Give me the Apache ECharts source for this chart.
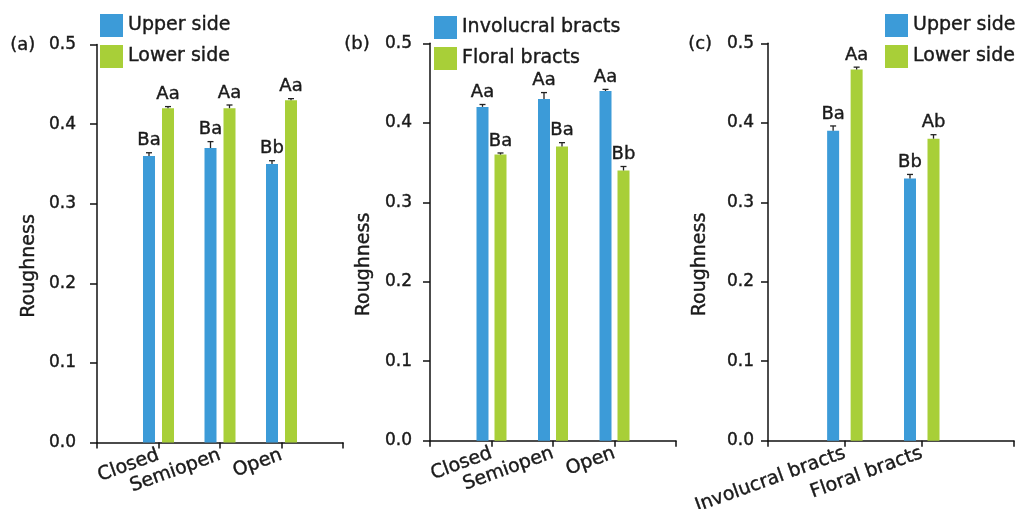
<!DOCTYPE html>
<html><head><meta charset="utf-8">
<script src="https://cdn.jsdelivr.net/npm/echarts@6/dist/echarts.min.js"></script>
<style>html,body{margin:0;padding:0;background:#fff}#c{width:1018px;height:509px}</style>
</head><body><div id="c"></div>
<script>
// ---- categories ----
const stageCats = ['Closed', 'Semiopen', 'Open'];
const bractCats = ['Involucral bracts', 'Floral bracts'];
const yTickLabels = ['0.0', '0.1', '0.2', '0.3', '0.4', '0.5'];

// ---- panel (a): upper vs lower side by stage ----
const aUpper = [0.36, 0.37, 0.35];
const aUpperErr = [0.004, 0.008, 0.004];
const aUpperSig = ['Ba', 'Ba', 'Bb'];
const aLower = [0.42, 0.42, 0.43];
const aLowerErr = [0.002, 0.004, 0.002];
const aLowerSig = ['Aa', 'Aa', 'Aa'];

// ---- panel (b): involucral vs floral bracts by stage ----
const bInvol = [0.42, 0.43, 0.44];
const bInvolErr = [0.003, 0.008, 0.002];
const bInvolSig = ['Aa', 'Aa', 'Aa'];
const bFloral = [0.36, 0.37, 0.34];
const bFloralErr = [0.002, 0.005, 0.005];
const bFloralSig = ['Ba', 'Ba', 'Bb'];

// ---- panel (c): upper vs lower side by bract type ----
const cUpper = [0.39, 0.33];
const cUpperErr = [0.006, 0.005];
const cUpperSig = ['Ba', 'Bb'];
const cLower = [0.467, 0.38];
const cLowerErr = [0.003, 0.005];
const cLowerSig = ['Aa', 'Ab'];

const FONT = 'DejaVu Sans';
const TXT = '#1a1a1a';
const BLUE = '#3c9bd8';
const GREEN = '#a8cf38';
const BARW = 12;
const HEAVY = {textBorderColor: TXT, textBorderWidth: 0.4};

const chart = echarts.init(document.getElementById('c'), null, {renderer: 'canvas'});

const grids = [], xAxes = [], yAxes = [], series = [], legends = [], graphics = [];

function addPanel(idx, cfg) {
  grids.push(Object.assign({outerBoundsMode: 'none', containLabel: false}, cfg.grid));
  const cats = cfg.cats;
  xAxes.push({
    type: 'value', gridIndex: idx, min: 0, max: cfg.xMax, interval: 1,
    splitLine: {show: false},
    axisLine: {lineStyle: {color: '#111', width: 1.5}},
    axisTick: {length: 6, customValues: cfg.xTicks, lineStyle: {color: '#111', width: 1.5}},
    axisLabel: Object.assign({
      customValues: cats.map((c, i) => i + 1),
      formatter: v => cats[Math.round(v) - 1] || '',
      rotate: 20, fontSize: 19, fontFamily: FONT, color: TXT, margin: 12
    }, HEAVY)
  });
  yAxes.push({
    type: 'value', gridIndex: idx, min: 0, max: 0.5, interval: 0.1,
    splitLine: {show: false},
    axisLine: {show: true, lineStyle: {color: '#111', width: 1.5}},
    axisTick: {show: true, length: 7, lineStyle: {color: '#111', width: 1.5}},
    axisLabel: Object.assign({formatter: v => yTickLabels[Math.round(v * 10)], fontSize: 17, fontFamily: FONT, color: TXT, margin: cfg.yLabelMargin}, HEAVY),
    name: 'Roughness', nameLocation: 'middle', nameGap: cfg.nameGap, nameRotate: 90,
    nameTextStyle: Object.assign({fontSize: 19, fontFamily: FONT, color: TXT, padding: [0, 45, 0, 0]}, HEAVY)
  });
  const off = (BARW + cfg.gapPx) / 2;
  [[cfg.s1, -off, BLUE], [cfg.s2, off, GREEN]].forEach(([s, dx, col]) => {
    series.push({
      type: 'bar', name: s.name, xAxisIndex: idx, yAxisIndex: idx,
      barWidth: BARW, barGap: (cfg.gapPx / BARW * 100) + '%',
      itemStyle: {color: col}, silent: true,
      data: s.values.map((v, i) => [i + 1, v])
    });
  });
  [[cfg.s1, -off], [cfg.s2, off]].forEach(([s, dx]) => {
    series.push({
      type: 'custom', name: s.name + ' error', xAxisIndex: idx, yAxisIndex: idx, silent: true, z: 5,
      data: s.values.map((v, i) => [i + 1, v, s.err[i]]),
      renderItem: (params, api) => {
        const x = api.value(0), v = api.value(1), e = api.value(2);
        const p0 = api.coord([x, v]);
        const p1 = api.coord([x, v + e]);
        const cx = p0[0] + dx;
        return {
          type: 'group',
          children: [
            {type: 'line', shape: {x1: cx, y1: p0[1], x2: cx, y2: p1[1]}, style: {stroke: '#222', lineWidth: 1.3}},
            {type: 'line', shape: {x1: cx - 3, y1: p1[1], x2: cx + 3, y2: p1[1]}, style: {stroke: '#222', lineWidth: 1.3}},
            {type: 'text', style: {text: s.sig[params.dataIndex], x: cx, y: p1[1] - 3, align: 'center', verticalAlign: 'bottom',
              fontSize: 18, fontFamily: FONT, fill: TXT, stroke: TXT, lineWidth: 0.4}}
          ]
        };
      }
    });
  });
  legends.push({
    data: [cfg.s1.name, cfg.s2.name], orient: 'vertical', left: cfg.legendPos[0], top: cfg.legendPos[1],
    padding: 0, itemGap: 8, itemWidth: 23, itemHeight: 23, icon: 'rect', selectedMode: false,
    textStyle: Object.assign({fontSize: 19, fontFamily: FONT, color: TXT}, HEAVY)
  });
  graphics.push({type: 'text', left: cfg.tagPos[0], top: cfg.tagPos[1],
    style: {text: cfg.tag, fontSize: 18, fontFamily: FONT, fill: TXT, stroke: TXT, lineWidth: 0.4}});
}

addPanel(0, {
  grid: {left: 97, top: 44.5, width: 246, height: 398},
  cats: stageCats, xMax: 4, xTicks: [0, 1, 2, 3, 4], gapPx: 7, yLabelMargin: 21, nameGap: 58,
  s1: {name: 'Upper side', values: aUpper, err: aUpperErr, sig: aUpperSig},
  s2: {name: 'Lower side', values: aLower, err: aLowerErr, sig: aLowerSig},
  legendPos: [100, 14], tag: '(a)', tagPos: [10, 36]
});
addPanel(1, {
  grid: {left: 430, top: 43.3, width: 246, height: 397.4},
  cats: stageCats, xMax: 4, xTicks: [0, 1, 2, 3, 4], gapPx: 6, yLabelMargin: 18, nameGap: 56,
  s1: {name: 'Involucral bracts', values: bInvol, err: bInvolErr, sig: bInvolSig},
  s2: {name: 'Floral bracts', values: bFloral, err: bFloralErr, sig: bFloralSig},
  legendPos: [434, 16], tag: '(b)', tagPos: [344, 35]
});
addPanel(2, {
  grid: {left: 768, top: 43.3, width: 246, height: 397.4},
  cats: bractCats, xMax: 3.2, xTicks: [0, 1, 2, 3.2], gapPx: 11.5, yLabelMargin: 14, nameGap: 58,
  s1: {name: 'Upper side', values: cUpper, err: cUpperErr, sig: cUpperSig},
  s2: {name: 'Lower side', values: cLower, err: cLowerErr, sig: cLowerSig},
  legendPos: [885, 14], tag: '(c)', tagPos: [688, 35]
});

chart.setOption({
  backgroundColor: '#fff',
  animation: false,
  grid: grids, xAxis: xAxes, yAxis: yAxes, series: series, legend: legends, graphic: graphics
});
</script></body></html>
